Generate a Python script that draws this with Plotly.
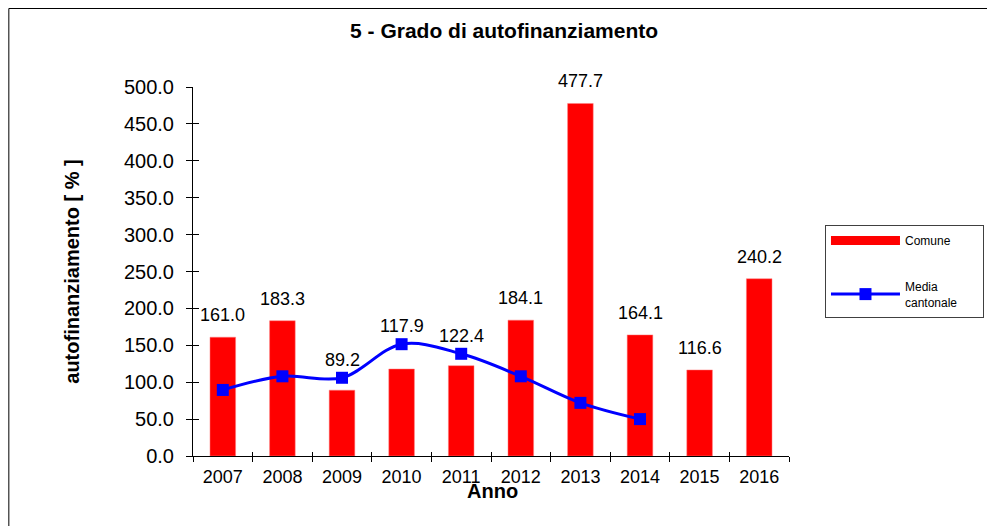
import plotly.graph_objects as go

anni = ["2007", "2008", "2009", "2010", "2011", "2012", "2013", "2014", "2015", "2016"]
comune = [161.0, 183.3, 89.2, 117.9, 122.4, 184.1, 477.7, 164.1, 116.6, 240.2]
anni_media = ["2007", "2008", "2009", "2010", "2011", "2012", "2013", "2014"]
media_cantonale = [89.5, 108.0, 106.0, 151.5, 138.5, 108.0, 72.0, 50.0]

FONT = "Liberation Sans, Arial, sans-serif"

fig = go.Figure()

fig.add_trace(go.Bar(
    x=anni, y=comune, name="Comune", showlegend=False,
    marker=dict(color="#ff0000", line=dict(color="#ff8080", width=0.5)),
    hoverinfo="x+y",
))
# legend entry drawn as a thick red bar, like the original
fig.add_trace(go.Scatter(
    x=[anni[0]], y=[None], mode="lines", name="Comune",
    line=dict(color="#ff0000", width=9), legendgroup="a", hoverinfo="skip",
))
fig.add_trace(go.Scatter(
    x=anni_media, y=media_cantonale,
    name="Media<br>cantonale&nbsp;&nbsp;&nbsp;&nbsp;&nbsp;&nbsp;",
    mode="lines+markers", line=dict(color="#0000ff", width=3, shape="spline"),
    marker=dict(symbol="square", size=12, color="#0000ff"),
    xaxis="x2", yaxis="y2", legendgroup="b",
))

# data labels; x given as category index (year strings would be read as numbers)
# labels sit above the blue line where it passes over the bar
for i, v in enumerate(comune):
    m = media_cantonale[i] if i < len(media_cantonale) else 0
    fig.add_annotation(
        x=i, y=max(v, m), text=f"{v:.1f}", showarrow=False,
        yanchor="bottom", yshift=10 if v >= m else 6,
        font=dict(size=18, color="#000000"),
    )

fig.add_annotation(
    text="<b>Anno</b>", xref="paper", yref="paper", x=0.5025, y=-0.095,
    yanchor="middle", showarrow=False, font=dict(size=20, color="#000000"),
)

fig.add_shape(
    type="rect", xref="paper", yref="paper",
    x0=-0.3090, x1=1.3383, y0=-0.25, y1=1.2127,
    line=dict(color="#000000", width=1), layer="below",
)

fig.update_layout(
    width=987, height=518,
    margin=dict(l=185, r=205, t=79, b=70),
    paper_bgcolor="#ffffff", plot_bgcolor="#ffffff",
    font=dict(family=FONT, color="#000000"),
    title=dict(text="<b>5 - Grado di autofinanziamento</b>", x=0.522, xref="paper",
               xanchor="center", y=0.9556, yanchor="middle",
               font=dict(size=21, color="#000000")),
    bargap=0.57,
    showlegend=True,
    legend=dict(
        x=1.0586, y=0.626, xanchor="left", yanchor="top",
        bordercolor="#404040", borderwidth=1, bgcolor="#ffffff",
        font=dict(size=12, color="#000000", family=FONT),
        itemwidth=69, tracegroupgap=27, traceorder="grouped",
    ),
    xaxis=dict(
        type="category", categoryorder="array", categoryarray=anni,
        range=[-0.5, 9.5], showgrid=False, zeroline=False,
        tickson="boundaries", ticks="outside", ticklen=5, tickcolor="#000000",
        tickfont=dict(size=18, color="#000000", family=FONT), tickangle=0,
        showline=True, linecolor="#000000", linewidth=1, ticklabelstandoff=4,
    ),
    xaxis2=dict(
        type="category", categoryorder="array", categoryarray=anni,
        range=[-0.5, 9.5], overlaying="x", tickson="boundaries", ticks="inside",
        ticklen=4, tickcolor="#000000", showticklabels=False, showgrid=False,
        zeroline=False, showline=False,
    ),
    yaxis=dict(
        range=[0, 500], dtick=50, tickformat=".1f", showgrid=False, zeroline=False,
        ticks="outside", ticklen=6, tickcolor="#000000",
        tickfont=dict(size=20, color="#000000", family=FONT),
        showline=True, linecolor="#000000", linewidth=1, ticklabelstandoff=8,
        title=dict(text="<b>autofinanziamento [ % ]</b>", standoff=38,
                   font=dict(size=20, color="#000000", family=FONT)),
    ),
    yaxis2=dict(
        range=[0, 500], dtick=50, overlaying="y", ticks="inside",
        ticklen=6, tickcolor="#000000", showticklabels=False, showgrid=False,
        zeroline=False, showline=False,
    ),
)

fig.write_html("out.html")
